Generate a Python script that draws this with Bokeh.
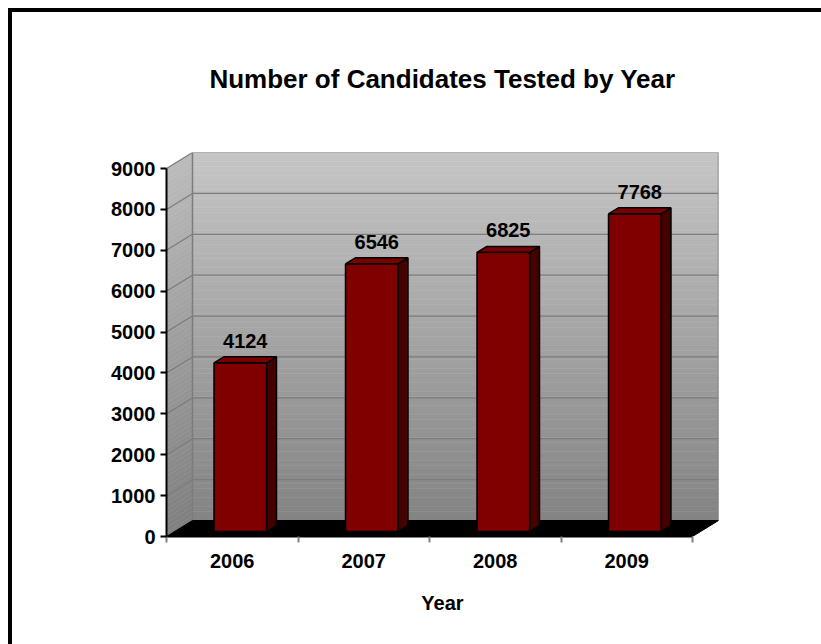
from bokeh.plotting import figure
from bokeh.models import Range1d, FixedTicker, CustomJSTickFormatter
from bokeh.core.properties import value
from bokeh.embed import file_html
from bokeh.resources import INLINE
import numpy as np

# ---- data ----
years = ["2006", "2007", "2008", "2009"]
candidates = [4124, 6546, 6825, 7768]
y_ticks = [0, 1000, 2000, 3000, 4000, 5000, 6000, 7000, 8000, 9000]
chart_title = "Number of Candidates Tested by Year"
x_title = "Year"

# ---- layout / style constants ----
FONT = "Liberation Sans"
N = len(years)
YMAX = y_ticks[-1]
DX = 26 / 131.5            # depth offset in category units
DY = YMAX * 16 / 368       # depth offset in value units
BAR_W = 0.4
D0, D1 = 0.31, 0.69        # bar depth span (fraction of depth)

p = figure(width=821, height=644, output_backend="svg", toolbar_location=None,
           x_range=Range1d(0, N + DX), y_range=Range1d(0, YMAX + DY),
           min_border_left=166, min_border_right=103,
           min_border_top=152, min_border_bottom=108)
p.outline_line_color = None
p.grid.visible = False
p.background_fill_color = "white"
p.border_fill_color = None
# outer chart-area border (left and top edges visible, others run off the window)
p.styles = {
    "background": ("linear-gradient(#000,#000) 8px 8px / 4px 100% no-repeat, "
                   "linear-gradient(#000,#000) 8px 8px / 100% 4px no-repeat, #fff"),
}

# ---- back wall (vertical gradient made of stripes) ----
ns = 80
edges = np.linspace(0, YMAX, ns + 1)
top_c = np.array([0xc6, 0xc6, 0xc6])
bot_c = np.array([0x84, 0x84, 0x84])
cols = []
for k in range(ns):
    t = (edges[k] + edges[k + 1]) / 2 / YMAX
    c = (bot_c + (top_c - bot_c) * t).astype(int)
    cols.append("#%02x%02x%02x" % tuple(c))
p.quad(left=[DX] * ns, right=[N + DX] * ns, bottom=list(edges[:-1] + DY),
       top=list(edges[1:] + DY), fill_color=cols, line_color=cols, line_width=0.5)

# left wall stripes
ltop = np.array([0xbc, 0xbc, 0xbc])
lbot = np.array([0x80, 0x80, 0x80])
lcols, lxs, lys = [], [], []
for k in range(ns):
    t = (edges[k] + edges[k + 1]) / 2 / YMAX
    c = (lbot + (ltop - lbot) * t).astype(int)
    lcols.append("#%02x%02x%02x" % tuple(c))
    lxs.append([0, DX, DX, 0])
    lys.append([edges[k], edges[k] + DY, edges[k + 1] + DY, edges[k + 1]])
p.patches(xs=lxs, ys=lys, fill_color=lcols, line_color=lcols, line_width=0.5)

# gridlines on walls
GRID = "#7c7c7c"
gv = y_ticks[1:]
p.segment(x0=[DX] * len(gv), y0=[v + DY for v in gv], x1=[N + DX] * len(gv),
          y1=[v + DY for v in gv], line_color=GRID, line_width=1.2)
p.segment(x0=[0] * len(gv), y0=gv, x1=[DX] * len(gv), y1=[v + DY for v in gv],
          line_color=GRID, line_width=1.2)
# wall edges
p.segment(x0=[DX, N + DX], y0=[DY, DY], x1=[DX, N + DX], y1=[YMAX + DY, YMAX + DY],
          line_color=GRID, line_width=1.5)

# floor
p.patch(x=[0, N, N + DX, DX], y=[0, 0, DY, DY], fill_color="black", line_color="black")

# ---- bars ----
xc = [i + 0.5 for i in range(N)]
x0 = [c - BAR_W / 2 for c in xc]
x1 = [c + BAR_W / 2 for c in xc]
side_xs = [[b + D0 * DX, b + D1 * DX, b + D1 * DX, b + D0 * DX] for b in x1]
side_ys = [[D0 * DY, D1 * DY, v + D1 * DY, v + D0 * DY] for v in candidates]
top_xs = [[a + D0 * DX, b + D0 * DX, b + D1 * DX, a + D1 * DX] for a, b in zip(x0, x1)]
top_ys = [[v + D0 * DY, v + D0 * DY, v + D1 * DY, v + D1 * DY] for v in candidates]
p.patches(xs=side_xs, ys=side_ys, fill_color="#450000", line_color="black", line_width=1.5)
p.patches(xs=top_xs, ys=top_ys, fill_color="#7a0000", line_color="black", line_width=1.5)
p.quad(left=[a + D0 * DX for a in x0], right=[b + D0 * DX for b in x1],
       bottom=[D0 * DY] * N, top=[v + D0 * DY for v in candidates],
       fill_color="#800000", line_color="black", line_width=1.5)

# value labels
p.text(x=[c + 0.5 * (D0 + D1) * DX for c in xc], y=[v + D1 * DY for v in candidates],
       text=[str(v) for v in candidates], y_offset=-9,
       text_align="center", text_baseline="bottom",
       text_font=value(FONT), text_font_style="bold", text_font_size="20px",
       text_color="black")

# ---- axes ----
ya = p.yaxis[0]
ya.ticker = FixedTicker(ticks=y_ticks, minor_ticks=[])
ya.bounds = (0, YMAX)
ya.axis_line_color = "black"
ya.axis_line_width = 2
ya.major_tick_out = 6
ya.major_tick_in = 0
ya.major_tick_line_width = 2
ya.major_label_standoff = 5
ya.major_label_text_font = FONT
ya.major_label_text_font_style = "bold"
ya.major_label_text_font_size = "20px"
ya.major_label_text_color = "black"

xa = p.xaxis[0]
xa.ticker = FixedTicker(ticks=xc, minor_ticks=list(range(N + 1)))
xa.formatter = CustomJSTickFormatter(args=dict(labels=years),
                                     code="const i = Math.floor(tick); return labels[i] ?? '';")
xa.bounds = (0, N)
xa.axis_line_color = "black"
xa.axis_line_width = 2
xa.major_tick_out = 0
xa.major_tick_in = 0
xa.minor_tick_out = 6
xa.minor_tick_in = 0
xa.minor_tick_line_color = "#808080"
xa.minor_tick_line_width = 2
xa.major_label_standoff = 11
xa.major_label_text_font = FONT
xa.major_label_text_font_style = "bold"
xa.major_label_text_font_size = "20px"
xa.major_label_text_color = "black"
xa.axis_label = x_title
xa.axis_label_standoff = 21
xa.axis_label_text_font = FONT
xa.axis_label_text_font_style = "bold"
xa.axis_label_text_font_size = "20px"
xa.axis_label_text_color = "black"

# ---- title ----
p.title.text = chart_title
p.title.align = "center"
p.title.text_font = FONT
p.title.text_font_style = "bold"
p.title.text_font_size = "26px"
p.title.text_color = "black"
p.title.standoff = 118

open("out.html", "w").write(file_html(p, INLINE))
